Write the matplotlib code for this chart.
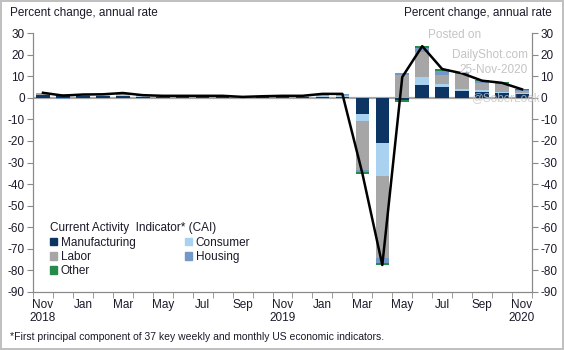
import matplotlib
matplotlib.use("Agg")
import matplotlib.pyplot as plt
from matplotlib.patches import Rectangle
import numpy as np

plt.rcParams['font.family'] = ['Liberation Sans', 'DejaVu Sans']

months = ["Nov\n2018", "Dec", "Jan", "Feb", "Mar", "Apr", "May", "Jun", "Jul", "Aug", "Sep", "Oct",
          "Nov\n2019", "Dec", "Jan", "Feb", "Mar", "Apr", "May", "Jun", "Jul", "Aug", "Sep", "Oct",
          "Nov\n2020"]

manufacturing = [1.2, 0.9, 0.8, 0.9, 1.0, 0.5, 0.3, 0.4, 0.6, 0.3, 0.1, 0.4, 0.5, 0.4, 0.4, 0.3,
                 -7.5, -21.1, -1.2, 6.0, 5.0, 3.1, 2.6, 2.1, 1.8]
consumer = [0.3, 0.3, 0.2, 0.2, 0.3, 0.2, 0.3, 0.2, 0.1, 0.3, 0.3, 0.1, 0.2, 0.2, 0.3, 0.6,
            -3.5, -15.1, 0.0, 3.5, 1.6, 0.8, 0.8, 0.5, 0.5]
labor = [0.5, 0.4, 0.4, 0.4, 0.6, 0.3, 0.2, 0.2, 0.1, 0.2, 0.0, 0.1, 0.1, 0.2, 0.6, 0.5,
         -22.4, -38.1, 10.5, 11.5, 3.8, 7.3, 3.4, 3.9, 1.0]
housing = [0.2, -0.8, 0.1, 0.1, 0.2, 0.1, 0.1, 0.1, 0.1, 0.1, 0.0, 0.1, 0.1, 0.1, 0.3, 0.2,
           -1.2, -2.3, 1.1, 2.0, 2.1, 0.5, 0.8, 0.3, 0.3]
other = [0.1, 0.2, 0.0, 0.0, 0.1, 0.1, 0.0, 0.0, 0.0, 0.0, 0.0, 0.0, 0.0, 0.0, 0.2, 0.2,
         -0.8, -0.8, -0.8, 1.0, 0.8, 0.3, 0.5, 0.5, 0.5]
cai = [2.3, 1.0, 1.5, 1.6, 2.2, 1.2, 0.9, 0.9, 0.9, 0.9, 0.4, 0.7, 0.9, 0.9, 1.8, 1.8,
       -35.0, -77.5, 9.6, 23.9, 13.3, 11.3, 7.9, 6.9, 3.9]

series_names = ["Manufacturing", "Consumer", "Labor", "Housing", "Other"]
series_vals = [manufacturing, consumer, labor, housing, other]
colors = ["#0c3563", "#a9d2f1", "#a6a6a6", "#7397c7", "#268a4c"]

yticks = list(range(30, -91, -10))

fig = plt.figure(figsize=(5.64, 3.5), dpi=100)
fig.patch.set_edgecolor("#c0c0c0")
fig.patch.set_linewidth(1.5)
ax = fig.add_axes([33/564, 1-292/350, (532-33)/564, (292-33)/350])

x = np.arange(len(months))
pos_bottom = np.zeros(len(months))
neg_bottom = np.zeros(len(months))
for name, vals, c in zip(series_names, series_vals, colors):
    v = np.array(vals, dtype=float)
    bottoms = np.where(v >= 0, pos_bottom, neg_bottom)
    ax.bar(x, v, bottom=bottoms, width=0.68, color=c, label=name, zorder=3, linewidth=0)
    pos_bottom = pos_bottom + np.where(v >= 0, v, 0)
    neg_bottom = neg_bottom + np.where(v < 0, v, 0)

ax.axhline(0, color="#a6a6a6", lw=1.6, zorder=2)
ax.plot(x, cai, color="black", lw=1.8, zorder=4)

ax.set_xlim(-0.5, len(months) - 0.5)
ax.set_ylim(-90, 30)
ax.set_yticks(yticks)
ax.set_yticklabels([str(t) for t in yticks], fontsize=8.5, color="#1a1a2a")
ax.tick_params(axis="y", direction="out", length=4, color="#8a8a8a", pad=2)

ax.set_xticks(x[::2])
ax.set_xticklabels(months[::2], fontsize=8.5, color="#1a1a2a", linespacing=1.15)
ax.tick_params(axis="x", which="major", length=0, pad=5)
ax.set_xticks(np.arange(-0.5, len(months)), minor=True)
ax.tick_params(axis="x", which="minor", direction="out", length=4, color="#8a8a8a")

for s in ["left", "right", "bottom"]:
    ax.spines[s].set_color("#8a8a8a")
ax.spines["top"].set_visible(False)

ax2 = ax.twinx()
ax2.set_ylim(-90, 30)
ax2.set_yticks(yticks)
ax2.set_yticklabels([str(t) for t in yticks], fontsize=8.5, color="#1a1a2a")
ax2.tick_params(axis="y", direction="out", length=4, color="#8a8a8a", pad=2)
for s in ["left", "right", "bottom"]:
    ax2.spines[s].set_color("#8a8a8a")
ax2.spines["top"].set_visible(False)

# legend
order = [0, 2, 4, 1, 3]
handles = [Rectangle((0, 0), 1, 1, color=colors[i]) for i in order]
labels = [series_names[i] for i in order]
leg = fig.legend(handles, labels, ncol=2, title="Current Activity  Indicator* (CAI)",
                 loc="upper left", bbox_to_anchor=(42/564, 1-214/350), frameon=False,
                 fontsize=8.5, title_fontsize=8.5, handlelength=0.6, handleheight=0.6,
                 handletextpad=0.3, labelspacing=0.2, columnspacing=4.2, borderpad=0.2)
leg._legend_box.align = "left"
leg.get_title().set_color("#1a1a2a")
for t in leg.get_texts():
    t.set_color("#1a1a2a")

fig.text(10/564, 1-13/350, "Percent change, annual rate", fontsize=8.5, color="#1a1a2a",
         ha="left", va="center")
fig.text(552/564, 1-13/350, "Percent change, annual rate", fontsize=8.5, color="#1a1a2a",
         ha="right", va="center")
fig.text(10/564, 1-337/350,
         "*First principal component of 37 key weekly and monthly US economic indicators.",
         fontsize=7.5, color="#1a1a2a", ha="left", va="center")

wm = "#c4c4c4"
fig.text(455/564, 1-35/350, "Posted on", fontsize=8.5, color=wm, ha="center", va="center", zorder=10)
fig.text(528/564, 1-55/350, "DailyShot.com", fontsize=8.5, color=wm, ha="right", va="center", zorder=10)
fig.text(528/564, 1-70/350, "25-Nov-2020", fontsize=8.5, color=wm, ha="right", va="center", zorder=10)
fig.text(540/564, 1-98/350, "@SoberLook", fontsize=8.5, color=wm, ha="right", va="center", zorder=10, alpha=0.8)

fig.savefig("out.png", dpi=100)
